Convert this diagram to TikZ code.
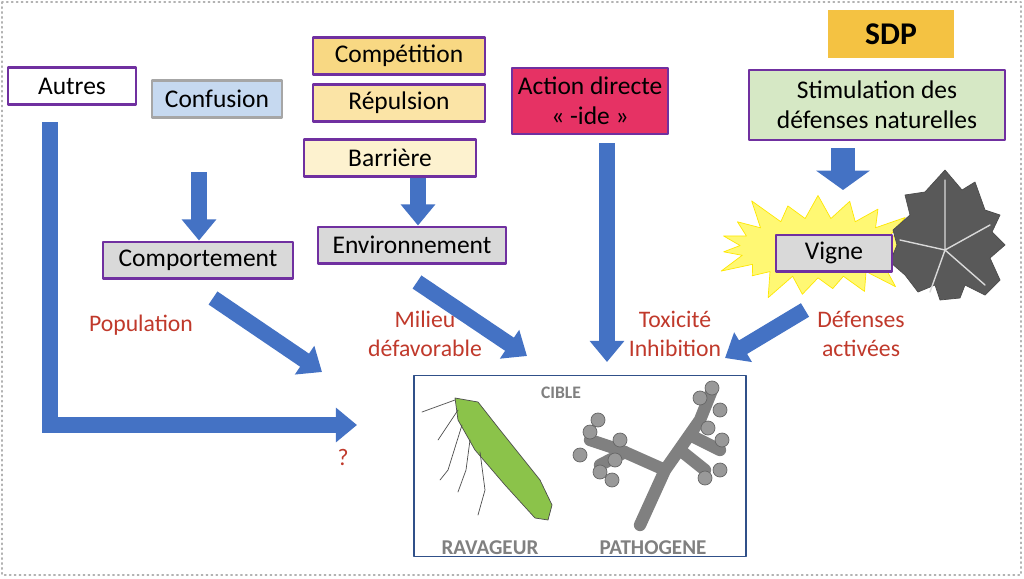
\documentclass[tikz,border=0pt]{standalone}
\usepackage{fontspec}
\setmainfont{Carlito}
\usetikzlibrary{arrows.meta,positioning,shapes.symbols}
\definecolor{boxline}{HTML}{7030A0}
\definecolor{arrowblue}{HTML}{4472C4}
\definecolor{redtext}{HTML}{C0392B}
\definecolor{insectgreen}{HTML}{8BC34A}
\tikzset{
  box/.style={draw=boxline,line width=1.2pt,minimum height=21pt,font=\fontsize{14.5}{17}\selectfont,align=center},
  bigarrow/.style={draw=arrowblue,line width=9pt,line cap=butt,line join=miter,-{Triangle[width=19pt,length=12pt]}},
  lbl/.style={text=redtext,font=\fontsize{13.5}{16.5}\selectfont,align=center},
}
\begin{document}
\begin{tikzpicture}[line cap=round,line join=round,x=0.02cm,y=-0.02cm]
\useasboundingbox (0,0) rectangle (1024,578);
\draw[gray!60,dotted,line width=0.8pt] (2,2) rectangle (1021,575);
% boxes
\node[box,fill=white,minimum width=73pt] (autres) at (72,86) {Autres};
\node[box,fill={rgb,255:red,198;green,217;blue,240},draw=gray!70,minimum width=74pt] (conf) at (217,99) {Confusion};
\node[box,fill={rgb,255:red,248;green,216;blue,131},minimum width=98pt] (comp) at (399,56) {Compétition};
\node[box,fill={rgb,255:red,251;green,228;blue,166},minimum width=98pt] (rep) at (399,103) {Répulsion};
\node[box,fill={rgb,255:red,253;green,242;blue,207},minimum width=98pt] (barr) at (390,158) {Barrière};
\node[box,fill={rgb,255:red,230;green,50;blue,100},minimum width=88pt,minimum height=38pt] (act) at (590,101) {Action directe\\« -ide »};
\node[fill={rgb,255:red,244;green,194;blue,66},minimum width=72pt,minimum height=27pt,font=\fontsize{18}{20}\selectfont\bfseries] (sdp) at (891,34) {SDP};
\node[box,fill={rgb,255:red,214;green,232;blue,197},minimum width=146pt,minimum height=40pt] (stim) at (877,105) {Stimulation des\\défenses naturelles};
\node[box,fill=gray!30,minimum width=108pt] (compt) at (198,260) {Comportement};
\node[box,fill=gray!30,minimum width=107pt] (env) at (412,245) {Environnement};
% starburst and leaf
\node[starburst,starburst points=19,starburst point height=18pt,fill=yellow!55,draw=yellow!90!orange,minimum width=125pt,minimum height=70pt] (burst) at (818,248) {};
\fill[gray!70!black,draw=black!70] (945,170) -- (962,190) -- (975,182) -- (985,210) -- (1000,215) -- (992,232) -- (1005,245) -- (990,258) -- (1000,280) -- (985,295) -- (965,285) -- (960,298) -- (940,300) -- (935,285) -- (918,292) -- (905,275) -- (890,262) -- (897,245) -- (893,230) -- (910,215) -- (905,195) -- (925,192) -- cycle;
\draw[gray!30,line width=0.8pt] (945,250) -- (945,180) (945,250) -- (990,225) (945,250) -- (985,285) (945,250) -- (900,240) (945,250) -- (930,292);
\node[box,fill=gray!30,minimum width=66pt] (vigne) at (834,253) {Vigne};
% labels
\node[lbl] (pop) at (141,325) {Population};
\node[lbl] (mil) at (425,334) {Milieu\\défavorable};
\node[lbl] (tox) at (675,334) {Toxicité\\Inhibition};
\node[lbl] (def) at (861,334) {Défenses\\activées};
\node[lbl] (qm) at (343,457) {?};
% target
\node[draw=arrowblue!70!black,fill=white,line width=0.8pt,minimum width=189pt,minimum height=103pt] (cible) at (580,466) {};
\node[text=gray,font=\bfseries] (ctitle) at (561,393) {CIBLE};
\node[text=gray,font=\large\bfseries] (rav) at (490,548) {RAVAGEUR};
\node[text=gray,font=\large\bfseries] (path) at (653,548) {PATHOGENE};
% insect
\fill[insectgreen,draw=black!70] (455,398) -- (478,402) -- (500,430) -- (540,480) -- (552,505) -- (548,520) -- (535,518) -- (505,485) -- (475,450) -- (458,420) -- cycle;
\draw[black!70] (455,400) -- (422,412) (458,410) -- (438,440) (462,425) -- (448,470) -- (440,480) (470,440) -- (466,470) -- (458,492) (480,452) -- (485,490) -- (478,515);
% pathogen
\draw[gray,line width=7pt] (640,525) -- (665,470) -- (700,420) -- (712,390) (665,470) -- (620,450) -- (590,440) (690,435) -- (720,450) (625,452) -- (600,465) (680,450) -- (705,470);
\foreach \p in {(712,388),(700,398),(720,410),(590,432),(580,455),(600,472),(615,460),(598,420),(620,440),(705,478),(720,470),(722,440),(708,428),(612,480)}
  \fill[gray!80,draw=black!60] \p circle (7);
% arrows
\coordinate (cq) at (357,425);
\draw[bigarrow] (50,122) -- (50,425) -- (cq);
\draw[bigarrow] (199,172) -- (compt.north -| 199,0);
\draw[bigarrow] (barr.south -| 418,0) -- (env.north -| 418,0);
\draw[bigarrow,line width=14pt,-{Triangle[width=30pt,length=11pt]}] (stim.south -| 843,0) ++(0,7) -- (843,190);
\coordinate (t1) at (322,372);
\coordinate (t2) at (527,356);
\coordinate (t3) at (607,362);
\coordinate (t4) at (725,358);
\draw[bigarrow] (213,298) -- (t1);
\draw[bigarrow] (417,282) -- (t2);
\draw[bigarrow] (act.south -| 607,0) ++(0,8) -- (t3);
\draw[bigarrow] (805,310) -- (t4);
\end{tikzpicture}
\end{document}
